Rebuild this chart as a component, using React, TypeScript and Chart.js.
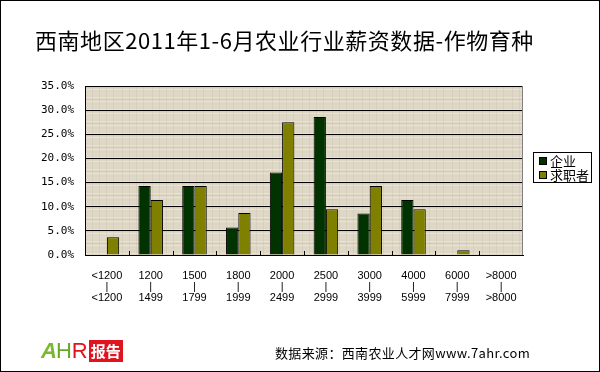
import React, { useEffect, useRef } from "react";
import { Chart, registerables } from "chart.js";

Chart.register(...registerables);

const categoriesTop = ["<1200", "1200", "1500", "1800", "2000", "2500", "3000", "4000", "6000", ">8000"];
const categoriesBottom = ["<1200", "1499", "1799", "1999", "2499", "2999", "3999", "5999", "7999", ">8000"];
const enterpriseValues = [0, 14.3, 14.3, 5.7, 17.1, 28.6, 8.6, 11.4, 0, 0];
const seekerValues = [3.7, 11.4, 14.3, 8.7, 27.5, 9.5, 14.3, 9.5, 1.0, 0];
const seriesNames = ["企业", "求职者"];
const yTicks = [0, 5, 10, 15, 20, 25, 30, 35];
const titleText = "西南地区2011年1-6月农业行业薪资数据-作物育种";
const sourceText = "数据来源：西南农业人才网www.7ahr.com";

const C_ENT = "#003300";
const C_SEEK = "#808000";

function makePattern(ctx: CanvasRenderingContext2D) {
  const c = document.createElement("canvas");
  c.width = 30;
  c.height = 24;
  const p = c.getContext("2d")!;
  p.fillStyle = "#ded7c6";
  p.fillRect(0, 0, 30, 24);
  p.fillStyle = "rgba(255,255,255,0.3)";
  for (let y = 1; y < 24; y += 4) p.fillRect(0, y, 30, 1);
  p.fillStyle = "rgba(150,135,110,0.1)";
  for (let x = 2; x < 30; x += 7) p.fillRect(x, 0, 1, 24);
  p.fillStyle = "rgba(160,145,120,0.12)";
  for (let y = 3; y < 24; y += 6) p.fillRect(0, y, 30, 1);
  return ctx.createPattern(c, "repeat");
}

const plotDeco = {
  id: "plotDeco",
  beforeDraw(chart: any) {
    const { ctx, chartArea } = chart;
    ctx.save();
    ctx.fillStyle = makePattern(ctx) || "#ded7c6";
    ctx.fillRect(chartArea.left, chartArea.top, chartArea.right - chartArea.left, chartArea.bottom - chartArea.top);
    ctx.restore();
  },
  afterDraw(chart: any) {
    const { ctx, chartArea } = chart;
    ctx.save();
    ctx.strokeStyle = "#808080";
    ctx.lineWidth = 1;
    ctx.beginPath();
    ctx.moveTo(Math.round(chartArea.right) - 0.5, chartArea.top);
    ctx.lineTo(Math.round(chartArea.right) - 0.5, chartArea.bottom);
    ctx.stroke();
    const n = categoriesTop.length;
    const w = (chartArea.right - chartArea.left) / n;
    ctx.strokeStyle = "#000";
    ctx.beginPath();
    for (let i = 1; i < n; i++) {
      const x = Math.round(chartArea.left + w * i) + 0.5;
      ctx.moveTo(x, chartArea.bottom);
      ctx.lineTo(x, chartArea.bottom - 4);
    }
    ctx.stroke();
    ctx.restore();
  },
};

export default function App() {
  const ref = useRef<HTMLCanvasElement>(null);
  useEffect(() => {
    document.body.style.margin = "0";
    const chart = new Chart(ref.current!, {
      type: "bar",
      data: {
        labels: categoriesTop.map((t, i) => [t, "|", categoriesBottom[i]]),
        datasets: [
          {
            label: seriesNames[0],
            data: enterpriseValues,
            backgroundColor: C_ENT,
            borderColor: "#000",
            borderWidth: 1,
            barPercentage: 1,
            categoryPercentage: 0.56,
          },
          {
            label: seriesNames[1],
            data: seekerValues,
            backgroundColor: C_SEEK,
            borderColor: "#000",
            borderWidth: 1,
            barPercentage: 1,
            categoryPercentage: 0.56,
          },
        ],
      },
      options: {
        responsive: false,
        animation: false,
        layout: { padding: { left: 0, right: 77, top: 86, bottom: 0 } },
        plugins: { legend: { display: false }, title: { display: false }, tooltip: { enabled: false } },
        scales: {
          x: {
            grid: { display: false, drawTicks: false },
            border: { color: "#000", width: 1 },
            ticks: {
              color: "#000",
              font: { family: "'Liberation Sans', Arial, sans-serif", size: 11, lineHeight: 1.0 },
              padding: 15,
              maxRotation: 0,
              autoSkip: false,
            },
            afterFit(scale: any) {
              scale.height = 117;
            },
          },
          y: {
            min: 0,
            max: 35,
            afterBuildTicks(scale: any) {
              scale.ticks = yTicks.map((v) => ({ value: v }));
            },
            grid: { color: "#000", lineWidth: 1, drawTicks: false },
            border: { color: "#000", width: 1 },
            ticks: {
              color: "#000",
              font: { family: "'DejaVu Sans Mono', monospace", size: 11 },
              padding: 11,
              callback: (v: any) => `${Number(v).toFixed(1)}%`,
            },
            afterFit(scale: any) {
              scale.width = 85;
            },
          },
        },
      },
      plugins: [plotDeco],
    });
    return () => chart.destroy();
  }, []);

  return (
    <div
      style={{
        position: "fixed",
        left: 0,
        top: 0,
        width: 600,
        height: 372,
        boxSizing: "border-box",
        border: "1px solid #000",
        background: "#fff",
        overflow: "hidden",
      }}
    >
      <canvas ref={ref} width={600} height={372} style={{ position: "absolute", left: -1, top: -1 }} />
      <div
        style={{
          position: "absolute",
          left: 34,
          top: 23,
          fontFamily: "'Noto Sans CJK SC', sans-serif",
          fontSize: 22,
          letterSpacing: 0.55,
          lineHeight: "30px",
          whiteSpace: "nowrap",
          color: "#000",
        }}
      >
        {titleText}
      </div>
      <div
        style={{
          position: "absolute",
          left: 532,
          top: 151,
          width: 59,
          height: 31,
          boxSizing: "border-box",
          border: "1px solid #000",
          background: "#fff",
          fontFamily: "'Noto Sans CJK SC', sans-serif",
          fontSize: 13,
          color: "#000",
        }}
      >
        {[C_ENT, C_SEEK].map((c, i) => (
          <div key={i} style={{ position: "absolute", left: 5, top: 0 + i * 14, height: 15, lineHeight: "15px", whiteSpace: "nowrap" }}>
            <span
              style={{
                display: "inline-block",
                width: 6,
                height: 6,
                border: "1px solid #000",
                background: c,
                marginRight: 3,
                verticalAlign: "middle",
                position: "relative",
                top: -1,
              }}
            />
            {seriesNames[i]}
          </div>
        ))}
      </div>
      <div
        style={{
          position: "absolute",
          left: 40,
          top: 338,
          height: 24,
          display: "flex",
          alignItems: "center",
          whiteSpace: "nowrap",
        }}
      >
        <span style={{ fontFamily: "'Liberation Sans', sans-serif", fontStyle: "italic", fontWeight: "bold", fontSize: 22, color: "#7cb82f", letterSpacing: -1 }}>
          A
        </span>
        <span style={{ fontFamily: "'Liberation Sans', sans-serif", fontSize: 22, color: "#6aa82a" }}>H</span>
        <span style={{ fontFamily: "'Liberation Sans', sans-serif", fontSize: 22, color: "#e0141e", marginRight: 1 }}>R</span>
        <span
          style={{
            fontFamily: "'Noto Sans CJK SC', sans-serif",
            fontWeight: "bold",
            fontSize: 15,
            color: "#fff",
            background: "#e0141e",
            padding: "1px 2px",
            lineHeight: "20px",
          }}
        >
          报告
        </span>
      </div>
      <div
        style={{
          position: "absolute",
          left: 274,
          top: 343,
          fontFamily: "'Noto Sans CJK SC', sans-serif",
          fontSize: 13,
          letterSpacing: 0.35,
          lineHeight: "18px",
          whiteSpace: "nowrap",
          color: "#000",
        }}
      >
        {sourceText}
      </div>
    </div>
  );
}
